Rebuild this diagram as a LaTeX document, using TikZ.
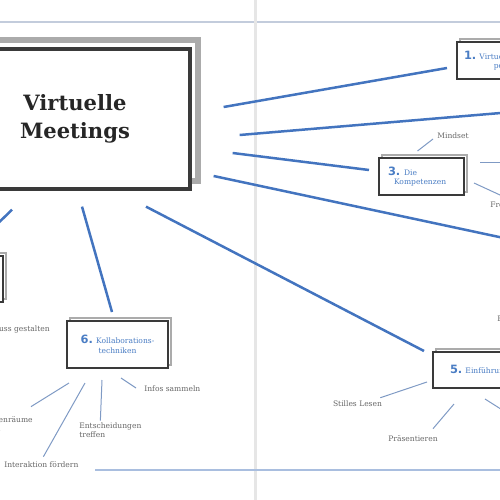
\documentclass[tikz,border=0pt]{standalone}
\usepackage{fontspec}
\setmainfont{DejaVu Serif}
\newfontfamily\zifferfont{DejaVu Sans}
\usepackage{tikz}
\usetikzlibrary{shadows}
\definecolor{AstBlue}{HTML}{4374BF}
\definecolor{TwigBlue}{HTML}{7F9AC4}
\definecolor{NumBlue}{HTML}{4A7DC4}
\definecolor{LabelGray}{HTML}{666666}
\definecolor{FrameDark}{HTML}{3A3A3A}
\definecolor{FrameGray}{HTML}{ABABAB}
\definecolor{PageLine}{HTML}{C3CCDC}
\definecolor{GutterGray}{HTML}{E6E6E6}
\definecolor{FootLine}{HTML}{A9BEDF}
\newcommand{\nr}[1]{{\zifferfont\bfseries\fontsize{6.5}{7}\selectfont\color{NumBlue}#1}}
\tikzset{
  MB/.style={rectangle,draw=FrameDark,line width=0.65mm,fill=white,
             minimum width=46mm,minimum height=28mm,align=center,
             font=\bfseries\fontsize{12}{16}\selectfont,text=black!85,
             shadow xshift=1.6mm,shadow yshift=1.7mm,
             general shadow={draw=FrameGray,line width=1.2mm}},
  KB/.style={rectangle,draw=FrameDark,line width=0.4mm,fill=white,
             minimum height=7.4mm,inner xsep=1.4mm,align=center,
             font=\fontsize{4.3}{5.4}\selectfont,text=NumBlue,
             shadow xshift=0.6mm,shadow yshift=0.6mm,
             general shadow={draw=FrameGray,line width=0.5mm}},
  ast/.style={AstBlue,line width=0.5mm},
  twig/.style={TwigBlue,line width=0.2mm},
  LB/.style={font=\fontsize{4.3}{5.2}\selectfont,text=LabelGray,inner sep=0pt,align=left}
}

\begin{document}
\begin{tikzpicture}[x=0.2mm,y=-0.2mm]
  \useasboundingbox (0,0) rectangle (500,500);
  \clip (0,0) rectangle (500,500);
  % Seitenraender
  \draw[PageLine,line width=0.3mm] (0,22) -- (500,22);
  \draw[GutterGray,line width=0.6mm] (255,0) -- (255,500);
  \draw[FootLine,line width=0.25mm] (95,470) -- (500,470);

  % Kaesten
  \node[MB] (mb) at (75,119) {Virtuelle\\Meetings};
  \node[KB,anchor=west] (k1) at (456,60.5) {\nr{1.} Virtuelle Zusammenarbeit\\perfekt planen};
  \node[KB,anchor=west,inner xsep=1.8mm,text width=13.4mm,align=left] (k3) at (378,176.5)
       {\nr{3.} Die\\\hspace*{1.2mm}Kompetenzen};
  \node[KB,anchor=west,inner xsep=3.4mm,minimum height=7.2mm] (k5) at (432,370) {\nr{5.} Einführung ins Thema};
  \node[KB,minimum width=20.2mm,minimum height=9.4mm] (k6) at (117.5,344.5) {\nr{6.} Kollaborations-\\techniken};
  \node[KB,anchor=east,minimum width=14mm,minimum height=9.2mm] (k7) at (4,279) {};
  \coordinate (k2) at (560,108);
  \coordinate (k4) at (560,250);
  \coordinate (r1) at (520,162);
  \coordinate (r2) at (515,418);

  % Stichworte
  \node[LB,anchor=west] (mindset) at (437,136) {Mindset};
  \node[LB,anchor=west] (frei) at (490,205) {Freiraum};
  \node[LB,anchor=west] (eis) at (497,319) {Eisbrecher};
  \node[LB] (lesen) at (357.5,404) {Stilles Lesen};
  \node[LB] (praes) at (413,439) {Präsentieren};
  \node[LB,anchor=west] (infos) at (144,389) {Infos sammeln};
  \node[LB,anchor=west] (entsch) at (79,430.5) {Entscheidungen\\treffen};
  \node[LB,anchor=west] (inter) at (4,465) {Interaktion fördern};
  \node[LB,anchor=east] (abschl) at (50,329) {Abschluss gestalten};
  \node[LB,anchor=east] (gruppe) at (33,424.5) {Gruppenräume\\nutzen};

  % Hauptaeste
  \draw[ast]([shift={(32,-12)}]mb.east)--([shift={(-9,7.5)}]k1.west);
  \draw[ast]([shift={(48,16)}]mb.east)--(k2);
  \draw[ast]([shift={(41,34)}]mb.east)--([shift={(-9,-6.5)}]k3.west);
  \draw[ast]([shift={(22,57)}]mb.east)--(k4);
  \draw[ast]([shift={(71,16)}]mb.south)--([shift={(-8,0)}]k5.north west);
  \draw[ast]([shift={(7,16)}]mb.south)--([shift={(-5.5,-8)}]k6.north);
  \draw[ast]([shift={(-63,19)}]mb.south)--([shift={(6,-8)}]k7.north);

  % Zweige
  \draw[twig]([shift={(-4,-6)}]k3.north)--([shift={(-4,3)}]mindset.west);
  \draw[twig]([shift={(15,-14.5)}]k3.east)--(r1);
  \draw[twig]([shift={(9,6.5)}]k3.east)--([shift={(0,-3)}]frei.north);
  \draw[twig]([shift={(-5,-7)}]k5.south west)--([shift={(-2,-3)}]lesen.north east);
  \draw[twig]([shift={(22,15)}]k5.south west)--([shift={(-5,-7)}]praes.north east);
  \draw[twig]([shift={(53,10)}]k5.south west)--(r2);
  \draw[twig]([shift={(3.5,9)}]k6.south)--([shift={(-8,-1)}]infos.west);
  \draw[twig]([shift={(-15.5,11)}]k6.south)--([shift={(-10,-2)}]entsch.north);
  \draw[twig]([shift={(-32.5,14)}]k6.south)--([shift={(2,-5)}]inter.north);
  \draw[twig]([shift={(3,14)}]k6.south west)--([shift={(-2,-10)}]gruppe.north east);
\end{tikzpicture}
\end{document}
